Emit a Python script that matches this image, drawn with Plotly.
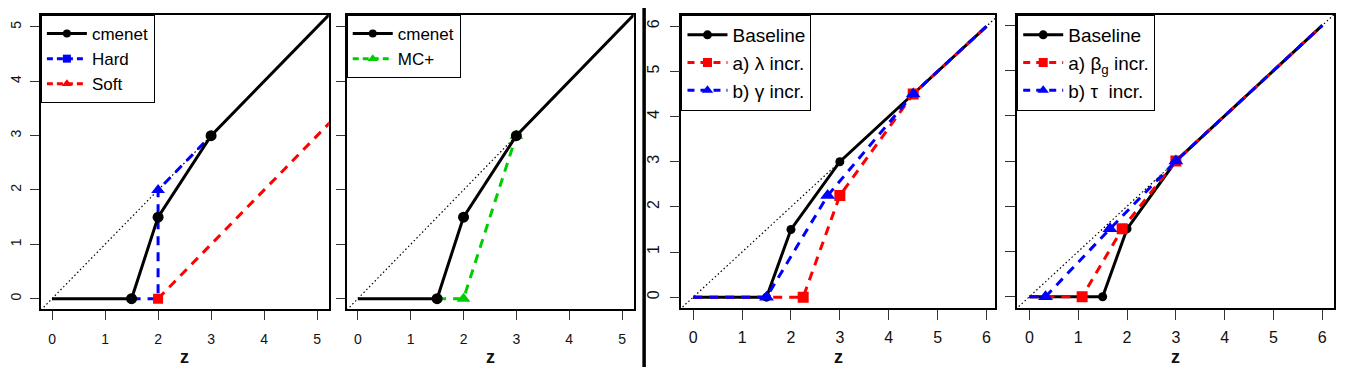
import plotly.graph_objects as go

# the page body keeps an 8px margin, so draw in screen pixels minus that offset
OFF = 8
W, H = 1347 - 2 * OFF, 377 - 2 * OFF

# --- Data ---
# panel 1 / 2: thresholding rules, z in [0, 5.2]
p1_cmenet_z = [0, 1.5, 2, 3, 5.6]
p1_cmenet_y = [0, 0, 1.5, 3, 5.6]
p1_hard_z = [1.5, 2, 2, 3]
p1_hard_y = [0, 0, 2, 3]
p1_soft_z = [2, 5.6]
p1_soft_y = [0, 3.6]
p2_mcp_z = [1.5, 2, 3]
p2_mcp_y = [0, 0, 3]

# panel 3: baseline vs lambda / gamma increased
p3_base_z = [0, 1.5, 2, 3, 4.5, 6]
p3_base_y = [0, 0, 1.5, 3, 4.5, 6]
p3_lam_z = [0, 2.25, 3, 4.5, 6]
p3_lam_y = [0, 0, 2.25, 4.5, 6]
p3_gam_z = [0, 1.5, 2.75, 4.5, 6]
p3_gam_y = [0, 0, 2.25, 4.5, 6]

# panel 4: baseline vs beta_g / tau increased
p4_base_z = [0, 1.5, 2, 3, 6]
p4_base_y = [0, 0, 1.5, 3, 6]
p4_beta_z = [0, 1.08, 1.9, 3, 6]
p4_beta_y = [0, 0, 1.5, 3, 6]
p4_tau_z = [0, 0.33, 1.65, 3, 6]
p4_tau_y = [0, 0, 1.5, 3, 6]

diag = [-1, 7]

BLACK, RED, BLUE, GREEN = "#000000", "#FF0000", "#0000FF", "#00CD00"
FONT = "Liberation Sans, Arial, sans-serif"


def px(x):
    return (x - OFF) / W


def py(y):
    return 1 - (y - OFF) / H


# panel boxes in screen pixels: (left, right, top, bottom)
boxes = [(36, 325, 15, 309), (343, 631, 15, 309), (679, 994, 15, 308), (1016, 1334, 15, 308)]
xranges = [[-0.21, 5.22], [-0.21, 5.22], [-0.24, 6.18], [-0.25, 6.24]]
yranges = [[-0.19, 5.22], [-0.19, 5.22], [-0.24, 6.25], [-0.25, 6.23]]

fig = go.Figure()


def ax(i):
    return ("x" if i == 1 else f"x{i}"), ("y" if i == 1 else f"y{i}")


def add_line(i, z, y, color, dash, sizes, symbol):
    xa, ya = ax(i)
    fig.add_trace(go.Scatter(
        x=z, y=y, xaxis=xa, yaxis=ya, mode="lines+markers",
        line=dict(color=color, width=3, dash=dash),
        marker=dict(color=color, size=sizes, symbol=symbol, opacity=1, line=dict(width=0)),
        showlegend=False, hoverinfo="skip",
    ))


def add_legend(i, name, color, dash, symbol, size, legend):
    xa, ya = ax(i)
    fig.add_trace(go.Scatter(
        x=[None], y=[None], xaxis=xa, yaxis=ya, mode="lines+markers", name=name,
        line=dict(color=color, width=3, dash=dash),
        marker=dict(color=color, size=size, symbol=symbol, opacity=1),
        legend=legend, showlegend=True,
    ))


# dotted identity line in every panel
for i in range(1, 5):
    xa, ya = ax(i)
    fig.add_trace(go.Scatter(
        x=diag, y=diag, xaxis=xa, yaxis=ya, mode="lines",
        line=dict(color=BLACK, width=1.2, dash="1.5px,2.5px"),
        showlegend=False, hoverinfo="skip",
    ))

# [1] cmenet / Hard / Soft
add_line(1, p1_hard_z, p1_hard_y, BLUE, "9px,7px", [0, 0, 12, 0], "triangle-up")
add_line(1, p1_soft_z, p1_soft_y, RED, "9px,7px", [10, 0], "square")
add_line(1, p1_cmenet_z, p1_cmenet_y, BLACK, "solid", [0, 11, 11, 11, 0], "circle")
add_legend(1, "cmenet", BLACK, "solid", "circle", 8, "legend")
add_legend(1, "Hard", BLUE, "6px,4px", "square", 8, "legend")
add_legend(1, "Soft", RED, "6px,4px", "triangle-up", 9, "legend")

# [2] cmenet / MC+
add_line(2, p2_mcp_z, p2_mcp_y, GREEN, "9px,7px", [0, 12, 12], "triangle-up")
add_line(2, p1_cmenet_z, p1_cmenet_y, BLACK, "solid", [0, 11, 11, 11, 0], "circle")
add_legend(2, "cmenet", BLACK, "solid", "circle", 8, "legend2")
add_legend(2, "MC+", GREEN, "6px,4px", "triangle-up", 9, "legend2")

# [3] Baseline / lambda / gamma
add_line(3, p3_base_z, p3_base_y, BLACK, "solid", [0, 9, 9, 9, 9, 0], "circle")
add_line(3, p3_lam_z, p3_lam_y, RED, "9px,7px", [0, 11, 11, 11, 0], "square")
add_line(3, p3_gam_z, p3_gam_y, BLUE, "9px,7px", [0, 13, 13, 13, 0], "triangle-up")
add_legend(3, "Baseline", BLACK, "solid", "circle", 9, "legend3")
add_legend(3, "a) λ incr.", RED, "7px,6px", "square", 9, "legend3")
add_legend(3, "b) γ incr.", BLUE, "7px,6px", "triangle-up", 10, "legend3")

# [4] Baseline / beta_g / tau
add_line(4, p4_base_z, p4_base_y, BLACK, "solid", [0, 9, 9, 9, 0], "circle")
add_line(4, p4_beta_z, p4_beta_y, RED, "9px,7px", [0, 11, 11, 11, 0], "square")
add_line(4, p4_tau_z, p4_tau_y, BLUE, "9px,7px", [0, 13, 13, 13, 0], "triangle-up")
add_legend(4, "Baseline", BLACK, "solid", "circle", 9, "legend4")
add_legend(4, "a) β<sub>g</sub> incr.", RED, "7px,6px", "square", 9, "legend4")
add_legend(4, "b) τ  incr.", BLUE, "7px,6px", "triangle-up", 10, "legend4")

layout = dict(
    width=W, height=H, margin=dict(l=0, r=0, t=0, b=0),
    paper_bgcolor="white", plot_bgcolor="white",
    font=dict(family=FONT, color="#111111"),
    shapes=[dict(type="line", xref="paper", yref="paper",
                 x0=px(641.5), x1=px(641.5), y0=py(8), y1=py(367),
                 line=dict(color=BLACK, width=3.5))],
    annotations=[],
)

leg_names = ["legend", "legend2", "legend3", "legend4"]
for i, (l, r, t, b) in enumerate(boxes, start=1):
    big = i >= 3
    tick_size = 16 if big else 14
    xk = "xaxis" if i == 1 else f"xaxis{i}"
    yk = "yaxis" if i == 1 else f"yaxis{i}"
    nt = 7 if big else 6
    common = dict(showline=True, mirror=True, linecolor=BLACK, linewidth=1.5,
                  showgrid=False, zeroline=False, ticks="outside",
                  ticklen=10 if big else 9, tickwidth=1.3, tickcolor="#333333",
                  tickvals=list(range(nt)), tickfont=dict(size=tick_size, family=FONT))
    layout[xk] = dict(common, domain=[px(l), px(r)], range=xranges[i - 1],
                      anchor=ax(i)[1], ticklabelstandoff=4 if big else 7)
    layout[yk] = dict(common, domain=[py(b), py(t)], range=yranges[i - 1],
                      anchor=ax(i)[0], tickangle=-90,
                      showticklabels=(i in (1, 3)), ticklabelstandoff=4 if big else 4)
    layout[leg_names[i - 1]] = dict(
        x=px(l), y=py(t), xanchor="left", yanchor="top",
        bgcolor="white", bordercolor=BLACK, borderwidth=1,
        font=dict(size=19 if big else 17, family=FONT, color=BLACK),
        tracegroupgap=0, itemwidth=40,
    )
    layout["annotations"].append(dict(
        text="<b>z</b>", xref="paper", yref="paper", x=px((l + r) / 2),
        y=py(368.5), xanchor="center", yanchor="bottom",
        showarrow=False, font=dict(size=18, family=FONT, color="#111111"),
    ))

fig.update_layout(**layout)
fig.write_html("out.html")
